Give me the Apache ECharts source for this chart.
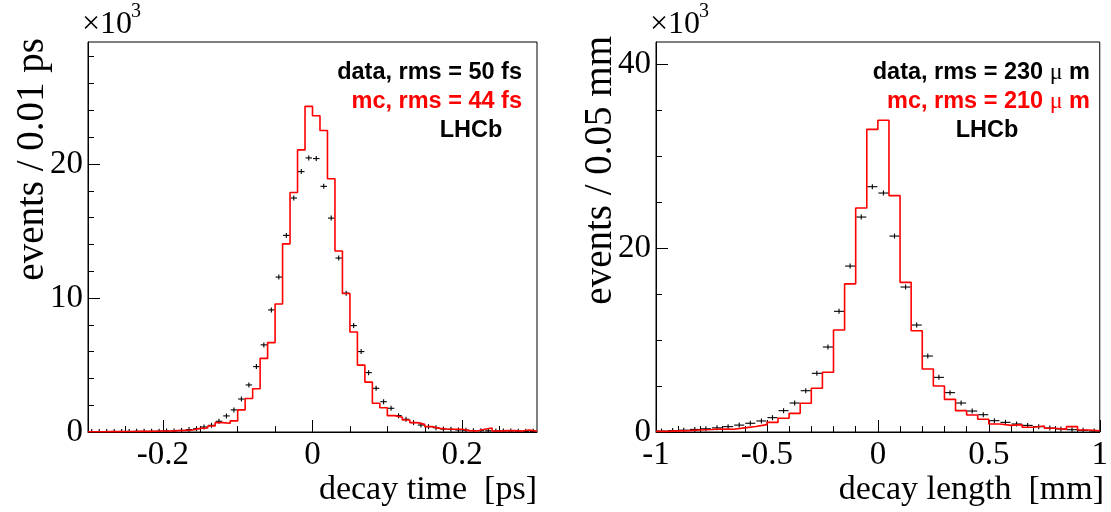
<!DOCTYPE html>
<html><head><meta charset="utf-8">
<script src="https://cdn.jsdelivr.net/npm/echarts@6/dist/echarts.min.js"></script>
<style>html,body{margin:0;padding:0;background:#fff}#c{width:1111px;height:512px}</style>
</head><body><div id="c"></div>
<script>
// ---------- left panel: decay time (bins of 0.01 ps from -0.30 to 0.30), values in 10^3 events
const timeBinStart = -0.30;
const timeBinWidth = 0.01;
const timeMC = [0.02,0.02,0.03,0.03,0.04,0.04,0.05,0.05,0.06,0.07,
  0.08,0.10,0.12,0.15,0.27,0.30,0.45,0.70,0.65,0.83,
  1.65,2.50,3.23,5.49,6.67,9.55,14.04,17.87,21.05,24.30,
  23.60,22.50,18.90,13.50,10.33,7.46,4.99,3.72,2.15,1.81,
  1.22,1.10,0.90,0.70,0.57,0.40,0.27,0.22,0.20,0.20,
  0.10,0.07,0.20,0.30,0.07,0.10,0.10,0.07,0.15,0.05];
const timeData = [0.03,0.03,0.03,0.04,0.04,0.04,0.05,0.05,0.05,0.06,
  0.07,0.08,0.12,0.18,0.25,0.37,0.50,0.80,1.20,1.65,
  2.46,3.51,4.88,6.50,9.11,11.56,14.67,17.46,19.43,20.45,
  20.40,18.33,15.96,12.98,10.36,7.94,6.00,4.43,3.26,2.26,
  1.77,1.22,0.95,0.70,0.52,0.40,0.32,0.22,0.20,0.15,
  0.13,0.10,0.10,0.09,0.08,0.08,0.07,0.06,0.05,0.05];
const timeXRange = [-0.3, 0.3];
const timeYRange = [0, 29.1];
const timeXMajor = [-0.2, 0, 0.2];
const timeXMinor = [-0.25, -0.15, -0.1, -0.05, 0.05, 0.1, 0.15, 0.25];
const timeYMajor = [0, 10, 20];
const timeYMinor = [2, 4, 6, 8, 12, 14, 16, 18, 22, 24, 26, 28];

// ---------- right panel: decay length (bins of 0.05 mm from -1 to 1), values in 10^3 events
const lenBinStart = -1.0;
const lenBinWidth = 0.05;
const lenMC = [0.07,0.12,0.15,0.22,0.27,0.33,0.30,0.45,0.60,0.80,
  1.05,1.49,2.03,3.12,4.75,6.49,11.09,16.10,24.35,32.90,
  33.90,25.70,16.27,11.00,6.85,5.00,3.55,2.32,1.85,1.38,
  0.87,0.72,0.80,0.51,0.65,0.40,0.29,0.58,0.22,0.14];
const lenData = [0.10,0.15,0.20,0.28,0.35,0.45,0.58,0.75,0.95,1.20,
  1.56,2.32,3.15,4.49,6.38,9.24,13.12,18.04,23.37,26.67,
  25.98,21.30,15.76,11.63,8.26,5.94,4.28,3.15,2.28,1.88,
  1.23,1.05,0.87,0.72,0.58,0.43,0.33,0.25,0.18,0.11];
const lenXRange = [-1, 1];
const lenYRange = [0, 42.4];
const lenXMajor = [-1, -0.5, 0, 0.5, 1];
const lenXMinor = [-0.9,-0.8,-0.7,-0.6,-0.4,-0.3,-0.2,-0.1,0.1,0.2,0.3,0.4,0.6,0.7,0.8,0.9];
const lenYMajor = [0, 20, 40];
const lenYMinor = [5, 10, 15, 25, 30, 35];

const texts = {
  timeXTitle: 'decay time  [ps]', timeYTitle: 'events / 0.01 ps',
  lenXTitle: 'decay length  [mm]', lenYTitle: 'events / 0.05 mm',
  timeData: 'data, rms = 50 fs', timeMC: 'mc, rms = 44 fs',
  lenData: 'data, rms = 230 {mu|μ} m', lenMC: 'mc, rms = 210 {mu|μ} m',
  exp: 'LHCb'
};

const SERIF = 'Liberation Serif';
const LABEL_SIZE = 33;
const XTITLE_FONT = '34px "Liberation Serif"';
const YTITLE_FONT = '39px "Liberation Serif"';
const NOTE_FONT = 'bold 23.5px "Liberation Sans"';

function stepData(start, width, vals) {
  const d = vals.map((v, i) => [start + width * i, v]);
  d.push([start + width * vals.length, vals[vals.length - 1]]);
  return d;
}
function errData(start, width, vals) {
  return vals.map((v, i) => [start + width * i, start + width * (i + 1), v]);
}
function renderErr(params, api) {
  const a = api.coord([api.value(0), api.value(2)]);
  const b = api.coord([api.value(1), api.value(2)]);
  const cx = (a[0] + b[0]) / 2, y = a[1];
  return {type: 'group', children: [
    {type: 'line', shape: {x1: a[0] + 0.5, y1: y, x2: b[0] - 0.5, y2: y}, style: {stroke: '#000', lineWidth: 1.1}},
    {type: 'line', shape: {x1: cx, y1: y - 2.5, x2: cx, y2: y + 2.5}, style: {stroke: '#000', lineWidth: 1.1}}
  ]};
}

function axisPair(kind, gridIndex, range, major, minor) {
  const base = {type: 'value', gridIndex, min: range[0], max: range[1],
    position: kind === 'x' ? 'bottom' : 'left', splitLine: {show: false}};
  return [
    Object.assign({}, base, {
      axisLine: {show: true, onZero: false, lineStyle: {color: '#000', width: 1}},
      axisTick: {show: true, inside: true, length: 12, customValues: major, lineStyle: {color: '#000', width: 1}},
      axisLabel: {show: true, customValues: major, fontFamily: SERIF, fontSize: LABEL_SIZE, color: '#000',
        margin: kind === 'x' ? 7 : 5}
    }),
    Object.assign({}, base, {
      axisLine: {show: false, onZero: false},
      axisTick: {show: true, inside: true, length: 6, customValues: minor, lineStyle: {color: '#000', width: 1}},
      axisLabel: {show: false}
    })
  ];
}

const chart = echarts.init(document.getElementById('c'), null, {renderer: 'canvas'});
const option = {
  animation: false,
  backgroundColor: '#fff',
  grid: [
    {left: 88, top: 42, width: 449, height: 390, show: true, borderColor: '#000', borderWidth: 1, backgroundColor: 'transparent'},
    {left: 656, top: 42, width: 448, height: 390, show: true, borderColor: '#000', borderWidth: 1, backgroundColor: 'transparent'}
  ],
  xAxis: [].concat(axisPair('x', 0, timeXRange, timeXMajor, timeXMinor), axisPair('x', 1, lenXRange, lenXMajor, lenXMinor)),
  yAxis: [].concat(axisPair('y', 0, timeYRange, timeYMajor, timeYMinor), axisPair('y', 1, lenYRange, lenYMajor, lenYMinor)),
  series: [
    {type: 'custom', xAxisIndex: 0, yAxisIndex: 0, data: errData(timeBinStart, timeBinWidth, timeData),
      encode: {x: [0, 1], y: 2}, renderItem: renderErr, clip: true, z: 2},
    {type: 'line', xAxisIndex: 0, yAxisIndex: 0, data: stepData(timeBinStart, timeBinWidth, timeMC), step: 'end',
      symbol: 'none', lineStyle: {color: '#ff0000', width: 1.6}, clip: true, z: 3},
    {type: 'custom', xAxisIndex: 2, yAxisIndex: 2, data: errData(lenBinStart, lenBinWidth, lenData),
      encode: {x: [0, 1], y: 2}, renderItem: renderErr, clip: true, z: 2},
    {type: 'line', xAxisIndex: 2, yAxisIndex: 2, data: stepData(lenBinStart, lenBinWidth, lenMC), step: 'end',
      symbol: 'none', lineStyle: {color: '#ff0000', width: 1.6}, clip: true, z: 3}
  ],
  graphic: [
    // exponent markers
    {type: 'text', x: 82, y: 9, style: {text: '×10', font: '32px "Liberation Serif"', fill: '#000'}},
    {type: 'text', x: 131, y: 2, style: {text: '3', font: '20px "Liberation Serif"', fill: '#000'}},
    {type: 'text', x: 650, y: 9, style: {text: '×10', font: '32px "Liberation Serif"', fill: '#000'}},
    {type: 'text', x: 699, y: 2, style: {text: '3', font: '20px "Liberation Serif"', fill: '#000'}},
    // axis titles
    {type: 'text', x: 537, y: 490, style: {text: texts.timeXTitle, font: XTITLE_FONT, fill: '#000', align: 'right', verticalAlign: 'middle'}},
    {type: 'text', x: 1104, y: 490, style: {text: texts.lenXTitle, font: XTITLE_FONT, fill: '#000', align: 'right', verticalAlign: 'middle'}},
    {type: 'text', x: 33, y: 38, rotation: Math.PI / 2, style: {text: texts.timeYTitle, font: YTITLE_FONT, fill: '#000', align: 'right', verticalAlign: 'middle'}},
    {type: 'text', x: 601, y: 36, rotation: Math.PI / 2, style: {text: texts.lenYTitle, font: YTITLE_FONT, fill: '#000', align: 'right', verticalAlign: 'middle'}},
    // annotations
    {type: 'text', x: 522, y: 73, style: {text: texts.timeData, font: NOTE_FONT, fill: '#000', align: 'right', verticalAlign: 'middle'}},
    {type: 'text', x: 522, y: 102, style: {text: texts.timeMC, font: NOTE_FONT, fill: '#ff0000', align: 'right', verticalAlign: 'middle'}},
    {type: 'text', x: 471, y: 131, style: {text: texts.exp, font: NOTE_FONT, fill: '#000', align: 'center', verticalAlign: 'middle'}},
    {type: 'text', x: 1090, y: 73, style: {text: texts.lenData, font: NOTE_FONT, fill: '#000', align: 'right', verticalAlign: 'middle',
      rich: {mu: {fontFamily: SERIF, fontWeight: 'normal', fontSize: 24, fill: '#000'}}}},
    {type: 'text', x: 1090, y: 102, style: {text: texts.lenMC, font: NOTE_FONT, fill: '#ff0000', align: 'right', verticalAlign: 'middle',
      rich: {mu: {fontFamily: SERIF, fontWeight: 'normal', fontSize: 24, fill: '#ff0000'}}}},
    {type: 'text', x: 987, y: 131, style: {text: texts.exp, font: NOTE_FONT, fill: '#000', align: 'center', verticalAlign: 'middle'}}
  ]
};
chart.setOption(option);
</script>
</body></html>
